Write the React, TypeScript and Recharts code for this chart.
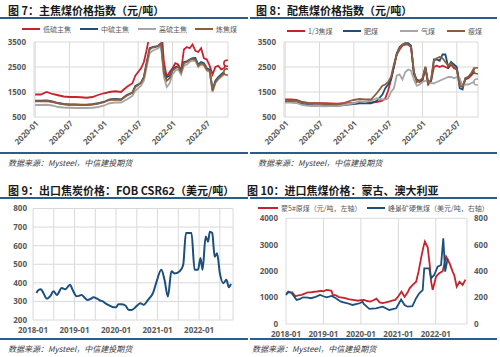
import React from 'react';
import { LineChart, Line, XAxis, YAxis, CartesianGrid } from 'recharts';

const CJK = '"Noto Sans CJK SC", "Noto Sans", sans-serif';
const NUM = '"Open Sans", "Noto Sans", sans-serif';

// ---------- Fig 7 / Fig 8 (months since 2020-01) ----------
const coalMonths = [0,1,2,3,4,5,6,7,8,9,10,11,12,13,14,15,16,17,17.5,18,18.5,19,19.5,20,20.5,21,21.5,22,22.5,23,23.5,24,24.5,25,25.5,26,26.5,27,27.5,28,28.5,29,29.5,30,30.5,31,31.5,32,32.5,33,33.5];
const coalTicks = [0, 6, 12, 18, 24, 30];
const coalTickLabels = ['2020-01', '2020-07', '2021-01', '2021-07', '2022-01', '2022-07'];
const coalYTicks = [500, 1500, 2500, 3500];

const lowSulfur = [1400,1400,1500,1420,1370,1320,1300,1300,1290,1270,1300,1380,1450,1500,1530,1500,1700,1850,2150,2300,2450,2700,3200,3800,4200,4400,4300,4200,2700,2100,2300,2450,2650,2600,2350,3200,3300,3250,3400,3150,3100,3250,2850,2800,2550,2200,2500,2550,2400,2450,2650];
const midSulfur = [1150,1150,1160,1120,1060,1020,1000,1000,990,990,1010,1050,1100,1200,1220,1200,1380,1480,1740,1800,1860,2100,2700,3250,3300,3320,3350,3450,2300,2100,2150,2400,2500,2540,2350,2700,2730,2800,2850,2860,2600,2700,2650,2450,2400,1600,1950,2100,2200,2300,2450];
const highSulfur = [980,980,990,960,900,880,870,860,860,860,870,900,950,1050,1080,1080,1200,1350,1550,1650,1750,1950,2500,3050,3150,3200,3250,3350,2100,1700,1850,2200,2350,2400,2200,2550,2600,2700,2750,2750,2500,2600,2550,2350,2300,1500,1850,2000,2100,2200,2300];
const cokingCoal = [1130,1130,1140,1100,1050,1010,990,990,980,980,1000,1040,1090,1180,1200,1190,1350,1470,1700,1780,1880,2080,2650,3200,3280,3300,3330,3420,2250,1950,2050,2350,2450,2500,2300,2650,2700,2780,2820,2800,2550,2650,2600,2400,2350,1550,1900,2050,2150,2250,2300];

const thirdCoking = [1200,1200,1180,1100,1060,1050,1050,1050,1040,1030,1040,1050,1060,1080,1100,1080,1100,1150,1250,1550,2000,2500,3000,3200,3350,3400,3400,3300,2300,1950,1900,1950,2450,1800,1950,2500,2550,2500,2550,2500,2450,2600,2450,2400,1900,1750,2000,2050,2150,2300,2250];
const fatCoal = [1100,1100,1080,1020,980,960,960,950,950,950,970,1000,1020,1050,1060,1050,1150,1400,1650,1800,2000,2500,3050,3300,3400,3450,3450,3350,2200,2000,1950,2000,2500,1850,1950,2800,2800,2750,3000,3000,2500,2700,2600,2500,1650,1600,2050,2100,2200,2400,2300];
const gasCoal = [1080,1080,1060,980,950,940,940,930,940,950,980,1020,1050,1120,1100,1150,1250,1200,1200,1250,1500,1650,2150,2200,2000,2300,2400,2350,2000,1750,1800,1900,1950,1900,1850,1850,1900,1950,2000,2050,2100,2100,2050,2100,2050,1750,1800,1800,1850,1900,1900];
const leanCoal = [1150,1150,1150,1080,1050,1040,1040,1020,1010,1010,1040,1120,1180,1220,1200,1200,1450,1750,1800,1900,2100,2600,3000,3250,3380,3450,3400,3300,2300,1900,1950,2050,2500,1850,2000,2750,2850,2900,2850,2700,2550,2650,2500,2400,1750,1700,2050,2100,2250,2450,2350];

// ---------- Fig 9 (months since 2018-01) ----------
const exportMonths = [1,1.5,2.3,3,4,5,5.9,6.9,8.3,9.3,10.7,11.5,12.6,13.3,14,15,15.7,16.5,17.5,18.5,19.4,20.2,20.9,22.3,23.3,24,24.7,25.5,26.7,27.6,28.5,30,31,32,33.3,34.7,35.6,37.1,38,39,40,41,42.4,43.4,44.2,45.8,46.7,47.7,48.4,49,49.9,50.6,51.1,51.8,52.5,53.2,54,55,55.9,56.6,57.2];
const exportPrice = [345,360,365,345,315,328,355,335,372,365,390,360,328,330,335,318,308,312,322,315,305,300,290,276,268,268,285,285,278,255,254,276,290,282,310,346,400,470,416,326,462,450,462,496,668,668,470,470,533,470,650,621,675,668,540,559,452,398,416,376,394];
const exportTicks = [0,6,12,18,24,30,36,42,48,54];
const exportTickLabels = ['2018-01', '2019-01', '2020-01', '2021-01', '2022-01'];
const exportYTicks = [200,300,400,500,600,700,800];

// ---------- Fig 10 (months since 2018-01) ----------
const mongoliaMonths = [0,1,2,3,4,5,6,7,8,9,10,11,12,13,14,14.6,15,16,17,18,19,20,21,22,23,24,25,26,27,28,29,30,31,32,33,34,35,36,37,38,39,39.6,40.6,41.7,42.5,43.3,44,44.5,45.4,46,46.5,47,48.1,49.1,50.2,51.3,52.4,53.4,53.9,54.7,55.6,56.6,57.5];
const mongoliaPrice = [1150,1200,1200,1050,1080,1100,1150,1200,1200,1220,1230,1250,1240,1290,1270,1250,1100,1080,1020,1000,980,940,920,900,880,900,910,870,850,900,960,820,790,820,850,880,910,1050,1220,1030,1200,1350,1480,1600,2000,2500,2900,3120,2900,2300,1600,1290,1800,1920,2000,2550,2300,1980,1850,1410,1600,1480,1680];
const australiaMonths = [0,0.7,1.8,3.4,4.5,5.5,7,8,9.5,10.9,12,13,14.6,16,17.6,19.7,21.3,23.6,24.5,25,26.7,28.8,31,33.1,35.3,36.9,38,39,40.5,41.7,42.7,43.8,44.3,45.9,46.5,47.5,48.6,49.7,50.4,51,51.8];
const australiaPrice = [220,245,235,182,190,202,200,195,205,220,210,202,212,195,169,157,144,157,169,150,115,119,131,106,119,185,144,131,135,195,232,257,421,421,346,371,434,447,649,396,497];
const importTicks = [0,12,24,36,48];
const importTickLabels = ['2018-01', '2019-01', '2020-01', '2021-01', '2022-01'];
const importLeftTicks = [0,1000,2000,3000,4000];
const importRightTicks = [0,200,400,600,800];

// ---------- build rows ----------
const coalRows = coalMonths.map((m, i) => ({
  m, low: lowSulfur[i], mid: midSulfur[i], high: highSulfur[i], coking: cokingCoal[i],
  third: thirdCoking[i], fat: fatCoal[i], gas: gasCoal[i], lean: leanCoal[i],
}));
const exportRows = exportMonths.map((m, i) => ({ m, v: exportPrice[i] }));
const importRows = (() => {
  const all = Array.from(new Set([...mongoliaMonths, ...australiaMonths])).sort((a, b) => a - b);
  return all.map((m) => {
    const a = mongoliaMonths.indexOf(m);
    const b = australiaMonths.indexOf(m);
    return { m, mn: a >= 0 ? mongoliaPrice[a] : null, au: b >= 0 ? australiaPrice[b] : null };
  });
})();

const RED = '#c8232c';
const BLUE = '#1c4f7c';
const GRAY = '#a6a6a6';
const BROWN = '#8b5e3c';
const RULE = '#2b5d8c';
const GRID = '#d9d9d9';
const TICK = { fontSize: 8, fill: '#595959', fontWeight: 'bold' as const, fontFamily: NUM };

const endDot = (color: string, last: number) => (props: any) => {
  const { cx, cy, index } = props;
  if (index !== last || cx == null || cy == null) return <g key={`d${index}`} />;
  return <circle key={`d${index}`} cx={cx} cy={cy} r={3} fill="#fff" stroke={color} strokeWidth={1.5} />;
};

const Title = ({ x, y, text }: { x: number; y: number; text: string }) => (
  <div style={{ position: 'absolute', left: x, top: y, fontSize: 11, lineHeight: '12px', fontWeight: 'bold', color: '#1a1a1a', fontFamily: CJK, whiteSpace: 'nowrap' }}>{text}</div>
);
const Rule = ({ x, y, w }: { x: number; y: number; w: number }) => (
  <div style={{ position: 'absolute', left: x, top: y, width: w, height: 2, background: RULE }} />
);
const Source = ({ x, y }: { x: number; y: number }) => (
  <div style={{ position: 'absolute', left: x, top: y, fontSize: 8, lineHeight: '10px', fontStyle: 'italic', color: '#404040', fontFamily: CJK, whiteSpace: 'nowrap' }}>数据来源：Mysteel，中信建投期货</div>
);
const LegendItem = ({ x, y, color, label, lineW = 18, fontSize = 7 }: any) => (
  <div style={{ position: 'absolute', left: x, top: y - 5, height: 10, display: 'flex', alignItems: 'center', whiteSpace: 'nowrap' }}>
    <div style={{ width: lineW, height: 2.5, background: color, marginRight: 3 }} />
    <span style={{ fontSize, color: '#595959', fontFamily: CJK, lineHeight: '10px' }}>{label}</span>
  </div>
);

const coalFmt = (v: number) => coalTickLabels[coalTicks.indexOf(v)] ?? '';

function CoalChart({ keys, colors, dots }: { keys: string[]; colors: string[]; dots: boolean[] }) {
  const last = coalRows.length - 1;
  return (
    <LineChart width={250} height={160} data={coalRows} margin={{ top: 42, right: 22, left: 0, bottom: 0 }}>
      <CartesianGrid stroke={GRID} strokeWidth={1} />
      <XAxis type="number" dataKey="m" domain={[-0.2, 33.7]} ticks={coalTicks} tickFormatter={coalFmt} interval={0}
        angle={-45} textAnchor="end" height={43} tick={TICK} tickLine={false} axisLine={false} tickSize={0} tickMargin={3} allowDataOverflow />
      <YAxis type="number" domain={[500, 3500]} ticks={coalYTicks} interval={0} width={34} tick={TICK}
        tickLine={false} axisLine={false} tickSize={0} tickMargin={8} allowDataOverflow />
      {keys.map((k, i) => (
        <Line key={k} type="linear" dataKey={k} stroke={colors[i]} strokeWidth={1.8}
          dot={dots[i] ? endDot(colors[i], last) : false} activeDot={false} isAnimationActive={false} />
      ))}
    </LineChart>
  );
}

const exportFmt = (v: number) => (v % 12 === 0 ? exportTickLabels[v / 12] : '');
const importFmt = (v: number) => importTickLabels[importTicks.indexOf(v)] ?? '';

export default function App() {
  return (
    <div style={{ position: 'absolute', left: 0, top: 0, width: 500, height: 357, background: '#fff', overflow: 'hidden' }}>
      {/* Fig 7 */}
      <Title x={8} y={4} text="图 7：主焦煤价格指数（元/吨）" />
      <Rule x={0} y={17} w={248} />
      <LegendItem x={22} y={29} color={RED} label="低硫主焦" />
      <LegendItem x={80} y={29} color={BLUE} label="中硫主焦" />
      <LegendItem x={138} y={29} color={GRAY} label="高硫主焦" />
      <LegendItem x={195} y={29} color={BROWN} label="炼焦煤" />
      <div style={{ position: 'absolute', left: 0, top: 0 }}>
        <CoalChart keys={['low', 'mid', 'high', 'coking']} colors={[RED, BLUE, GRAY, BROWN]} dots={[true, false, false, true]} />
      </div>
      <Rule x={0} y={152} w={248} />
      <Source x={8} y={158} />

      {/* Fig 8 */}
      <Title x={256} y={4} text="图 8：配焦煤价格指数（元/吨）" />
      <Rule x={250} y={17} w={247} />
      <LegendItem x={287} y={31} color={RED} label="1/3焦煤" />
      <LegendItem x={343} y={31} color={BLUE} label="肥煤" />
      <LegendItem x={400} y={31} color={GRAY} label="气煤" />
      <LegendItem x={447} y={31} color={BROWN} label="瘦煤" />
      <div style={{ position: 'absolute', left: 250, top: 0 }}>
        <CoalChart keys={['third', 'fat', 'gas', 'lean']} colors={[RED, BLUE, GRAY, BROWN]} dots={[false, false, true, true]} />
      </div>
      <Rule x={250} y={152} w={247} />
      <Source x={258} y={158} />

      {/* Fig 9 */}
      <Title x={8} y={184} text="图 9：出口焦炭价格：FOB CSR62（美元/吨）" />
      <Rule x={0} y={197} w={248} />
      <div style={{ position: 'absolute', left: 0, top: 175 }}>
        <LineChart width={250} height={163} data={exportRows} margin={{ top: 33.5, right: 17, left: 0, bottom: 0 }}>
          <CartesianGrid stroke={GRID} strokeWidth={1} />
          <XAxis type="number" dataKey="m" domain={[0, 57.8]} ticks={exportTicks} tickFormatter={exportFmt} interval={0}
            height={18} tick={TICK} tickLine={false} axisLine={false} tickSize={0} tickMargin={7} />
          <YAxis type="number" domain={[200, 800]} ticks={exportYTicks} interval={0} width={33} tick={TICK}
            tickLine={false} axisLine={false} tickSize={0} tickMargin={6} />
          <Line type="monotone" dataKey="v" stroke={BLUE} strokeWidth={2} dot={false} activeDot={false} isAnimationActive={false} />
        </LineChart>
      </div>
      <Rule x={0} y={338} w={248} />
      <Source x={8} y={344} />

      {/* Fig 10 */}
      <Title x={247} y={184} text="图 10：进口焦煤价格：蒙古、澳大利亚" />
      <Rule x={250} y={197} w={247} />
      <LegendItem x={258} y={208} color={RED} label="蒙5#原煤（元/吨，左轴）" lineW={20} fontSize={7} />
      <LegendItem x={367} y={208} color={BLUE} label="峰景矿硬焦煤（美元/吨，右轴）" lineW={18} fontSize={7} />
      <div style={{ position: 'absolute', left: 250, top: 175 }}>
        <LineChart width={250} height={165} data={importRows} margin={{ top: 43.3, right: 0, left: 0, bottom: 0 }}>
          <CartesianGrid stroke={GRID} strokeWidth={1} />
          <XAxis type="number" dataKey="m" domain={[0, 58]} ticks={importTicks} tickFormatter={importFmt} interval={0}
            height={16} tick={TICK} tickLine={false} axisLine={false} tickSize={0} tickMargin={7.5} />
          <YAxis yAxisId="l" type="number" domain={[0, 4000]} ticks={importLeftTicks} interval={0} width={36} tick={TICK}
            tickLine={false} axisLine={false} tickSize={0} tickMargin={8} />
          <YAxis yAxisId="r" orientation="right" type="number" domain={[0, 800]} ticks={importRightTicks} interval={0} width={33} tick={TICK}
            tickLine={false} axisLine={false} tickSize={0} tickMargin={7} />
          <Line yAxisId="l" type="linear" dataKey="mn" stroke={RED} strokeWidth={1.8} dot={false} activeDot={false} connectNulls isAnimationActive={false} />
          <Line yAxisId="r" type="linear" dataKey="au" stroke={BLUE} strokeWidth={1.8} dot={false} activeDot={false} connectNulls isAnimationActive={false} />
        </LineChart>
      </div>
      <Rule x={250} y={338} w={247} />
      <Source x={252} y={344} />
    </div>
  );
}
